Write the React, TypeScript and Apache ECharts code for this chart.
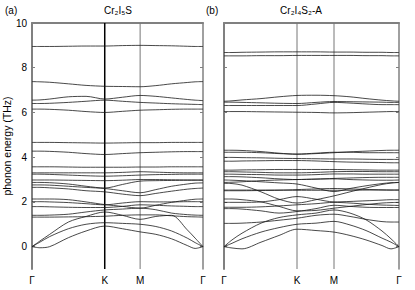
import React, { useEffect, useRef } from "react";
import * as echarts from "echarts";

const kLabels = ["Γ", "K", "M", "Γ"];
const kTicksA = [0, 74, 110, 174];
const kTicksB = [0, 73, 110, 175];
const kGridA = [0, 8, 18, 37, 55, 74, 92, 110, 126, 142, 158, 166, 174];
const kGridB = [0, 8, 18, 37, 55, 73, 92, 110, 126, 142, 158, 167, 175];
const yTicks = [0, 2, 4, 6, 8, 10];
const titleA = "Cr₂I₅S";
const titleB = "Cr₂I₄S₂-A";
const yName = "phonon energy (THz)";

const bandsA: number[][] = [
  [0, -0.05, 0.0, 0.4, 0.7, 0.92, 0.8, 0.66, 0.55, 0.35, 0.05, -0.08, 0],
  [0, 0.2, 0.45, 0.8, 1.0, 1.07, 1.04, 1.0, 0.9, 0.7, 0.38, 0.18, 0],
  [0, 0.25, 0.55, 1.1, 1.35, 1.55, 1.4, 1.22, 1.35, 1.4, 0.75, 0.38, 0],
  [1.32, 1.32, 1.32, 1.33, 1.34, 1.36, 1.4, 1.42, 1.42, 1.38, 1.34, 1.33, 1.32],
  [1.4, 1.4, 1.41, 1.45, 1.55, 1.64, 1.68, 1.72, 1.65, 1.5, 1.43, 1.41, 1.4],
  [1.79, 1.79, 1.78, 1.76, 1.75, 1.75, 1.8, 1.87, 1.85, 1.82, 1.8, 1.79, 1.79],
  [2.01, 2.01, 2.0, 1.97, 1.92, 1.87, 1.95, 2.01, 2.0, 2.0, 2.01, 2.01, 2.01],
  [2.13, 2.13, 2.13, 2.1, 2.0, 1.88, 1.8, 1.72, 1.85, 1.98, 2.08, 2.12, 2.13],
  [2.65, 2.65, 2.63, 2.58, 2.5, 2.45, 2.35, 2.28, 2.38, 2.48, 2.57, 2.6, 2.62],
  [2.76, 2.76, 2.75, 2.7, 2.65, 2.6, 2.5, 2.41, 2.55, 2.7, 2.8, 2.84, 2.85],
  [2.87, 2.87, 2.86, 2.8, 2.7, 2.62, 2.78, 2.93, 2.95, 2.96, 2.97, 2.97, 2.97],
  [2.98, 2.98, 2.98, 2.97, 2.96, 2.95, 2.97, 3.0, 3.0, 2.99, 2.98, 2.98, 2.98],
  [3.24, 3.24, 3.23, 3.2, 3.17, 3.15, 3.17, 3.2, 3.22, 3.23, 3.24, 3.24, 3.24],
  [3.3, 3.3, 3.3, 3.3, 3.3, 3.3, 3.32, 3.35, 3.33, 3.31, 3.3, 3.3, 3.3],
  [3.57, 3.57, 3.57, 3.56, 3.55, 3.55, 3.55, 3.56, 3.56, 3.57, 3.57, 3.57, 3.57],
  [4.27, 4.27, 4.26, 4.22, 4.16, 4.12, 4.16, 4.2, 4.22, 4.24, 4.25, 4.25, 4.25],
  [4.66, 4.66, 4.66, 4.65, 4.64, 4.63, 4.64, 4.65, 4.65, 4.66, 4.66, 4.66, 4.66],
  [6.15, 6.15, 6.14, 6.1, 6.04, 6.0, 6.05, 6.1, 6.12, 6.14, 6.15, 6.15, 6.15],
  [6.4, 6.4, 6.41, 6.45, 6.5, 6.55, 6.5, 6.45, 6.42, 6.39, 6.37, 6.36, 6.35],
  [6.55, 6.56, 6.6, 6.7, 6.72, 6.6, 6.68, 6.76, 6.72, 6.65, 6.58, 6.55, 6.53],
  [7.38, 7.37, 7.35, 7.28, 7.21, 7.17, 7.16, 7.15, 7.2, 7.28, 7.34, 7.37, 7.38],
  [8.95, 8.95, 8.95, 8.96, 8.97, 8.97, 8.99, 9.0, 8.99, 8.98, 8.96, 8.95, 8.95],
];

const bandsB: number[][] = [
  [0, -0.06, -0.1, 0.2, 0.5, 0.78, 0.72, 0.65, 0.5, 0.3, 0.05, -0.1, 0],
  [0, 0.15, 0.35, 0.65, 0.85, 1.0, 1.05, 1.13, 0.97, 0.72, 0.38, 0.2, 0],
  [0, 0.3, 0.6, 1.05, 1.3, 1.42, 1.5, 1.64, 1.5, 1.2, 0.7, 0.35, 0],
  [1.04, 1.04, 1.05, 1.1, 1.18, 1.27, 1.4, 1.45, 1.35, 1.22, 1.12, 1.1, 1.1],
  [1.7, 1.7, 1.68, 1.6, 1.5, 1.57, 1.7, 1.85, 1.8, 1.76, 1.75, 1.75, 1.75],
  [1.76, 1.76, 1.76, 1.78, 1.82, 1.87, 1.92, 1.98, 1.95, 1.9, 1.86, 1.85, 1.84],
  [1.98, 1.98, 1.98, 2.0, 2.1, 2.24, 2.12, 2.0, 2.02, 2.05, 2.08, 2.1, 2.1],
  [2.13, 2.13, 2.1, 2.0, 1.8, 1.6, 1.62, 1.72, 1.8, 1.88, 1.95, 1.97, 1.98],
  [2.83, 2.82, 2.75, 2.45, 2.12, 1.95, 2.1, 2.27, 2.45, 2.62, 2.78, 2.84, 2.87],
  [2.53, 2.53, 2.53, 2.53, 2.53, 2.52, 2.52, 2.52, 2.52, 2.53, 2.53, 2.53, 2.53],
  [2.5, 2.5, 2.5, 2.51, 2.52, 2.55, 2.58, 2.6, 2.58, 2.56, 2.54, 2.53, 2.53],
  [2.98, 2.97, 2.95, 2.9, 2.85, 2.8, 2.62, 2.46, 2.6, 2.72, 2.82, 2.86, 2.87],
  [2.87, 2.88, 2.9, 2.95, 2.98, 3.0, 3.02, 3.03, 3.0, 2.98, 2.97, 2.97, 2.98],
  [3.13, 3.13, 3.12, 3.08, 3.03, 3.0, 3.02, 3.05, 3.07, 3.09, 3.1, 3.1, 3.1],
  [3.24, 3.24, 3.23, 3.22, 3.2, 3.2, 3.22, 3.25, 3.25, 3.24, 3.24, 3.24, 3.24],
  [3.35, 3.35, 3.34, 3.32, 3.3, 3.3, 3.32, 3.35, 3.36, 3.36, 3.35, 3.35, 3.35],
  [3.42, 3.42, 3.43, 3.44, 3.45, 3.45, 3.45, 3.45, 3.44, 3.43, 3.42, 3.42, 3.42],
  [3.82, 3.82, 3.83, 3.84, 3.85, 3.85, 3.83, 3.8, 3.78, 3.77, 3.76, 3.75, 3.75],
  [3.99, 3.99, 3.98, 3.97, 3.95, 3.94, 3.93, 3.92, 3.92, 3.91, 3.9, 3.9, 3.9],
  [4.31, 4.31, 4.3, 4.25, 4.18, 4.13, 4.16, 4.2, 4.24, 4.27, 4.3, 4.31, 4.31],
  [4.22, 4.22, 4.22, 4.2, 4.16, 4.14, 4.18, 4.22, 4.22, 4.2, 4.2, 4.2, 4.2],
  [6.04, 6.04, 6.04, 6.03, 6.02, 6.01, 6.0, 5.98, 5.99, 6.01, 6.03, 6.04, 6.04],
  [6.31, 6.31, 6.31, 6.31, 6.31, 6.31, 6.38, 6.45, 6.42, 6.38, 6.35, 6.35, 6.35],
  [6.46, 6.46, 6.45, 6.43, 6.41, 6.4, 6.45, 6.49, 6.48, 6.47, 6.46, 6.45, 6.45],
  [6.5, 6.52, 6.56, 6.62, 6.7, 6.76, 6.77, 6.75, 6.7, 6.62, 6.55, 6.52, 6.5],
  [8.53, 8.53, 8.53, 8.54, 8.54, 8.55, 8.55, 8.55, 8.55, 8.54, 8.54, 8.53, 8.53],
  [8.68, 8.68, 8.69, 8.7, 8.71, 8.71, 8.71, 8.7, 8.7, 8.69, 8.69, 8.68, 8.68],
];

const FONT = '"Liberation Sans", Arial, sans-serif';
const FRAME = "#808080";

export default function App() {
  const ref = useRef<HTMLDivElement>(null);
  useEffect(() => {
    if (!ref.current) return;
    const chart = echarts.init(ref.current, undefined, { renderer: "svg" });

    const bandSeries = (bands: number[][], grid: number[], idx: number) =>
      bands.map((b) => ({
        type: "line",
        xAxisIndex: idx * 2,
        yAxisIndex: idx * 2,
        data: grid.map((k, i) => [k, b[i]]),
        smooth: 0.3,
        symbol: "none",
        silent: true,
        lineStyle: { color: "#1a1a1a", width: 0.8 },
        z: 3,
      }));

    const vline = (k: number, idx: number, color: string, width: number) => ({
      type: "line",
      xAxisIndex: idx * 2,
      yAxisIndex: idx * 2,
      data: [
        [k, -1],
        [k, 10],
      ],
      symbol: "none",
      silent: true,
      lineStyle: { color, width },
      z: 2,
    });

    const xAxesFor = (idx: number, ticks: number[]) => {
      const max = ticks[ticks.length - 1];
      return [
        {
          gridIndex: idx,
          type: "value",
          min: 0,
          max,
          position: "bottom",
          axisLine: { show: false, onZero: false },
          axisTick: { show: false },
          splitLine: { show: false },
          axisLabel: {
            customValues: ticks,
            formatter: (v: number) => {
              const i = ticks.findIndex((t) => Math.abs(t - v) < 1e-6);
              return i >= 0 ? kLabels[i] : "";
            },
            fontSize: 10,
            fontFamily: FONT,
            color: () => "#000",
            margin: 6,
          },
        },
        {
          gridIndex: idx,
          type: "value",
          min: 0,
          max,
          position: "top",
          axisLine: { show: true, onZero: false, lineStyle: { color: FRAME, width: 2 } },
          axisTick: { show: false },
          splitLine: { show: false },
          axisLabel: { show: false },
        },
      ];
    };

    const yAxesFor = (idx: number, showLabels: boolean) => [
      {
        gridIndex: idx,
        type: "value",
        min: -1,
        max: 10,
        position: "left",
        axisLine: { show: true, onZero: false, lineStyle: { color: FRAME, width: 2 } },
        axisTick: {
          show: true,
          inside: true,
          length: 3,
          customValues: yTicks,
          lineStyle: { color: FRAME, width: 1 },
        },
        splitLine: { show: false },
        axisLabel: {
          show: showLabels,
          customValues: yTicks,
          fontSize: 10,
          fontFamily: FONT,
          color: "#000",
          margin: 5,
        },
        name: showLabels ? yName : "",
        nameLocation: "middle",
        nameGap: 19,
        nameRotate: 90,
        nameTextStyle: { fontSize: 10.5, fontFamily: FONT, color: "#000" },
      },
      {
        gridIndex: idx,
        type: "value",
        min: -1,
        max: 10,
        position: "right",
        axisLine: { show: true, onZero: false, lineStyle: { color: FRAME, width: 1.5 } },
        axisTick: {
          show: true,
          inside: true,
          length: 3,
          customValues: yTicks,
          lineStyle: { color: FRAME, width: 1 },
        },
        splitLine: { show: false },
        axisLabel: { show: false },
      },
    ];

    const text = (t: string, x: number, y: number, align: string) => ({
      type: "text",
      x,
      y,
      style: {
        text: t,
        fontSize: 10,
        fontFamily: FONT,
        fill: "#000",
        align,
        verticalAlign: "middle",
      },
    });

    chart.setOption({
      animation: false,
      backgroundColor: "#fff",
      textStyle: { color: "#000", fontFamily: FONT },
      grid: [
        { left: 29, top: 23, width: 174, height: 246 },
        { left: 224, top: 23, width: 175, height: 246 },
      ],
      xAxis: [...xAxesFor(0, kTicksA), ...xAxesFor(1, kTicksB)],
      yAxis: [...yAxesFor(0, true), ...yAxesFor(1, false)],
      graphic: [
        text("(a)", 5, 10, "left"),
        text(titleA, 118, 10, "center"),
        text("(b)", 206, 10, "left"),
        text(titleB, 301, 10, "center"),
      ],
      series: [
        vline(kTicksA[1], 0, "#000", 1.5),
        vline(kTicksA[2], 0, "#777", 1),
        vline(kTicksB[1], 1, "#777", 1),
        vline(kTicksB[2], 1, "#777", 1),
        ...bandSeries(bandsA, kGridA, 0),
        ...bandSeries(bandsB, kGridB, 1),
      ],
    });
    return () => chart.dispose();
  }, []);

  return (
    <div
      ref={ref}
      style={{ position: "fixed", left: 0, top: 0, width: 415, height: 290 }}
    />
  );
}
